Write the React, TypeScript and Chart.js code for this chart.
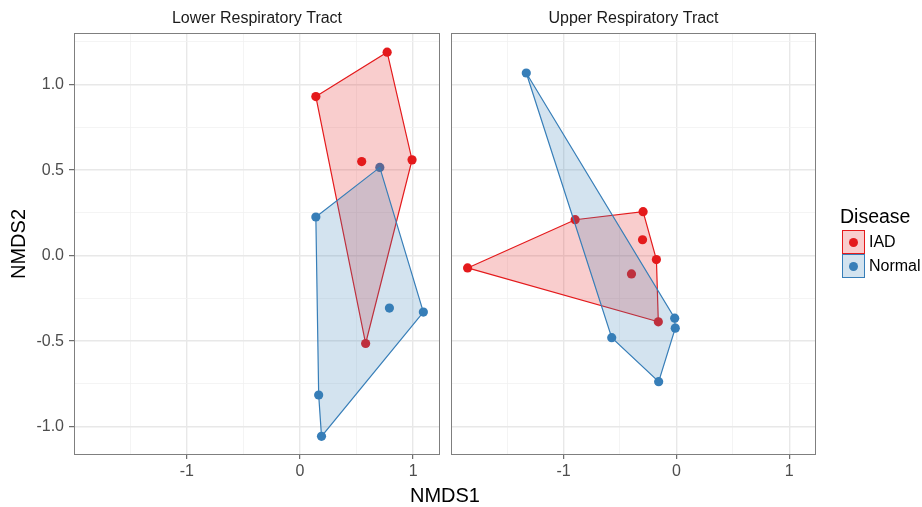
import React, { useEffect, useRef } from "react";
import { Chart, registerables } from "chart.js";

Chart.register(...registerables);

const FONT = '"Liberation Sans", Arial, Helvetica, sans-serif';
Chart.defaults.font.family = FONT;

// ---- data ----
const PANELS = ["Lower Respiratory Tract", "Upper Respiratory Tract"];
const GROUPS = ["IAD", "Normal"];
const COLORS = ["#E41A1C", "#377EB8"];
const FILLS = ["rgba(228,26,28,0.22)", "rgba(55,126,184,0.22)"];

const LOWER_IAD_X = [0.14, 0.77, 0.99, 0.545, 0.58];
const LOWER_IAD_Y = [0.93, 1.19, 0.56, 0.55, -0.514];
const LOWER_NORMAL_X = [0.705, 0.14, 0.79, 1.09, 0.165, 0.19];
const LOWER_NORMAL_Y = [0.516, 0.226, -0.307, -0.33, -0.815, -1.057];

const UPPER_IAD_X = [-1.85, -0.897, -0.295, -0.3, -0.177, -0.398, -0.16];
const UPPER_IAD_Y = [-0.072, 0.21, 0.257, 0.093, -0.023, -0.107, -0.387];
const UPPER_NORMAL_X = [-1.33, -0.015, -0.01, -0.573, -0.157];
const UPPER_NORMAL_Y = [1.068, -0.366, -0.424, -0.48, -0.737];

const X_MIN = -1.997;
const X_MAX = 1.237;
const Y_MIN = -1.166;
const Y_MAX = 1.302;
const X_MAJOR = [-1, 0, 1];
const X_MAJOR_LABELS = ["-1", "0", "1"];
const X_MINOR = [-1.5, -0.5, 0.5];
const Y_MAJOR = [-1, -0.5, 0, 0.5, 1];
const Y_MAJOR_LABELS = ["-1.0", "-0.5", "0.0", "0.5", "1.0"];
const Y_MINOR = [-0.75, -0.25, 0.25, 0.75, 1.25];

const X_TITLE = "NMDS1";
const Y_TITLE = "NMDS2";
const LEGEND_TITLE = "Disease";

type Pt = { x: number; y: number };

const toPts = (xs: number[], ys: number[]): Pt[] => xs.map((x, i) => ({ x, y: ys[i] }));

function convexHull(pts: Pt[]): Pt[] {
  const p = [...pts].sort((a, b) => a.x - b.x || a.y - b.y);
  const cross = (o: Pt, a: Pt, b: Pt) => (a.x - o.x) * (b.y - o.y) - (a.y - o.y) * (b.x - o.x);
  const lower: Pt[] = [];
  for (const q of p) {
    while (lower.length >= 2 && cross(lower[lower.length - 2], lower[lower.length - 1], q) <= 0) lower.pop();
    lower.push(q);
  }
  const upper: Pt[] = [];
  for (let i = p.length - 1; i >= 0; i--) {
    const q = p[i];
    while (upper.length >= 2 && cross(upper[upper.length - 2], upper[upper.length - 1], q) <= 0) upper.pop();
    upper.push(q);
  }
  lower.pop();
  upper.pop();
  const h = lower.concat(upper);
  return [...h, h[0]];
}

const idx = (arr: number[], v: number) => arr.findIndex((m) => Math.abs(m - v) < 1e-9);

const borderPlugin = {
  id: "panelBorder",
  afterDatasetsDraw(chart: any) {
    const { ctx, chartArea } = chart;
    const l = Math.round(chartArea.left) + 0.5;
    const t = Math.round(chartArea.top) + 0.5;
    const r = Math.round(chartArea.right) - 0.5;
    const b = Math.round(chartArea.bottom) - 0.5;
    ctx.save();
    ctx.strokeStyle = "#7F7F7F";
    ctx.lineWidth = 1;
    ctx.strokeRect(l, t, r - l, b - t);
    ctx.restore();
  },
};

type PanelProps = {
  title: string;
  iad: Pt[];
  normal: Pt[];
  left: number;
  width: number;
  padLeft: number;
  padRight: number;
  showY: boolean;
};

function Panel({ title, iad, normal, left, width, padLeft, padRight, showY }: PanelProps) {
  const ref = useRef<HTMLCanvasElement | null>(null);
  useEffect(() => {
    if (!ref.current) return;
    const groups = [iad, normal];
    const hullSet = (g: number) => ({
      label: GROUPS[g] + " hull",
      data: convexHull(groups[g]),
      showLine: true,
      fill: "shape",
      backgroundColor: FILLS[g],
      borderColor: COLORS[g],
      borderWidth: 1.2,
      pointRadius: 0,
      tension: 0,
    });
    const pointSet = (g: number) => ({
      label: GROUPS[g],
      data: groups[g],
      showLine: false,
      pointRadius: 4.6,
      pointBackgroundColor: COLORS[g],
      pointBorderWidth: 0,
      backgroundColor: COLORS[g],
    });
    const gridColor = (major: number[]) => (c: any) =>
      idx(major, c.tick ? c.tick.value : NaN) >= 0 ? "#E8E8E8" : "#F1F1F1";
    const gridWidth = (major: number[]) => (c: any) =>
      idx(major, c.tick ? c.tick.value : NaN) >= 0 ? 1.4 : 0.8;
    const tickColor = (major: number[]) => (c: any) =>
      idx(major, c.tick ? c.tick.value : NaN) >= 0 ? "#4D4D4D" : "rgba(0,0,0,0)";

    const chart = new Chart(ref.current, {
      type: "scatter",
      data: {
        datasets: [hullSet(1), hullSet(0), pointSet(0), pointSet(1)] as any,
      },
      options: {
        animation: false,
        responsive: false,
        events: [],
        layout: { padding: { left: padLeft, right: padRight, top: 0, bottom: 0 } },
        plugins: {
          legend: { display: false },
          tooltip: { enabled: false },
          title: {
            display: true,
            text: title,
            fullSize: false,
            color: "#1A1A1A",
            font: { size: 16, weight: "normal" as any },
            padding: { top: 8.5, bottom: 5.3 },
          },
        },
        scales: {
          x: {
            type: "linear",
            min: X_MIN,
            max: X_MAX,
            afterBuildTicks: (s: any) => {
              s.ticks = [...X_MINOR, ...X_MAJOR].sort((a, b) => a - b).map((v) => ({ value: v }));
            },
            afterFit: (s: any) => {
              s.height = 52;
            },
            border: { display: false },
            grid: {
              color: gridColor(X_MAJOR),
              lineWidth: gridWidth(X_MAJOR),
              drawTicks: true,
              tickLength: 4,
              tickColor: tickColor(X_MAJOR),
              tickWidth: 1,
            },
            ticks: {
              autoSkip: false,
              maxRotation: 0,
              padding: 3,
              color: "#4D4D4D",
              font: { size: 16 },
              callback: (v: any) => {
                const i = idx(X_MAJOR, Number(v));
                return i >= 0 ? X_MAJOR_LABELS[i] : "";
              },
            },
          },
          y: {
            type: "linear",
            min: Y_MIN,
            max: Y_MAX,
            afterBuildTicks: (s: any) => {
              s.ticks = [...Y_MINOR, ...Y_MAJOR].sort((a, b) => a - b).map((v) => ({ value: v }));
            },
            afterFit: (s: any) => {
              s.width = showY ? 74 : 0;
            },
            border: { display: false },
            title: {
              display: showY,
              text: Y_TITLE,
              color: "#000000",
              font: { size: 20 },
              padding: { top: 7.5, bottom: 0 },
            },
            grid: {
              color: gridColor(Y_MAJOR),
              lineWidth: gridWidth(Y_MAJOR),
              drawTicks: showY,
              tickLength: 5,
              tickColor: tickColor(Y_MAJOR),
              tickWidth: 1,
            },
            ticks: {
              display: showY,
              autoSkip: false,
              padding: 5,
              color: "#4D4D4D",
              font: { size: 16 },
              callback: (v: any) => {
                const i = idx(Y_MAJOR, Number(v));
                return i >= 0 ? Y_MAJOR_LABELS[i] : "";
              },
            },
          },
        },
      } as any,
      plugins: [borderPlugin],
    });
    return () => chart.destroy();
  }, []);
  return (
    <canvas
      ref={ref}
      width={width}
      height={507}
      style={{ position: "absolute", left, top: 0, width, height: 507 }}
    />
  );
}

function LegendKey({ g, top }: { g: number; top: number }) {
  return (
    <>
      <div
        style={{
          position: "absolute",
          left: 842,
          top,
          width: 23,
          height: 24,
          boxSizing: "border-box",
          border: `1.3px solid ${COLORS[g]}`,
          background: FILLS[g],
        }}
      >
        <div
          style={{
            position: "absolute",
            left: 6.3,
            top: 6.8,
            width: 9.2,
            height: 9.2,
            borderRadius: "50%",
            background: COLORS[g],
          }}
        />
      </div>
      <div
        style={{
          position: "absolute",
          left: 869,
          top: top + 4,
          fontSize: 16,
          lineHeight: "16px",
          color: "#000",
          whiteSpace: "nowrap",
        }}
      >
        {GROUPS[g]}
      </div>
    </>
  );
}

export default function App() {
  return (
    <div
      style={{
        position: "absolute",
        left: 0,
        top: 0,
        width: 922,
        height: 507,
        background: "#ffffff",
        fontFamily: FONT,
        overflow: "hidden",
      }}
    >
      <Panel
        title={PANELS[0]}
        iad={toPts(LOWER_IAD_X, LOWER_IAD_Y)}
        normal={toPts(LOWER_NORMAL_X, LOWER_NORMAL_Y)}
        left={0}
        width={445}
        padLeft={0}
        padRight={5}
        showY={true}
      />
      <Panel
        title={PANELS[1]}
        iad={toPts(UPPER_IAD_X, UPPER_IAD_Y)}
        normal={toPts(UPPER_NORMAL_X, UPPER_NORMAL_Y)}
        left={445}
        width={477}
        padLeft={6}
        padRight={106}
        showY={false}
      />
      <div
        style={{
          position: "absolute",
          left: 74,
          width: 742,
          top: 485,
          textAlign: "center",
          fontSize: 20,
          lineHeight: "20px",
          color: "#000",
        }}
      >
        {X_TITLE}
      </div>
      <div
        style={{
          position: "absolute",
          left: 840,
          top: 206,
          fontSize: 19.5,
          lineHeight: "20px",
          color: "#000",
          whiteSpace: "nowrap",
        }}
      >
        {LEGEND_TITLE}
      </div>
      <LegendKey g={0} top={230} />
      <LegendKey g={1} top={254} />
    </div>
  );
}
